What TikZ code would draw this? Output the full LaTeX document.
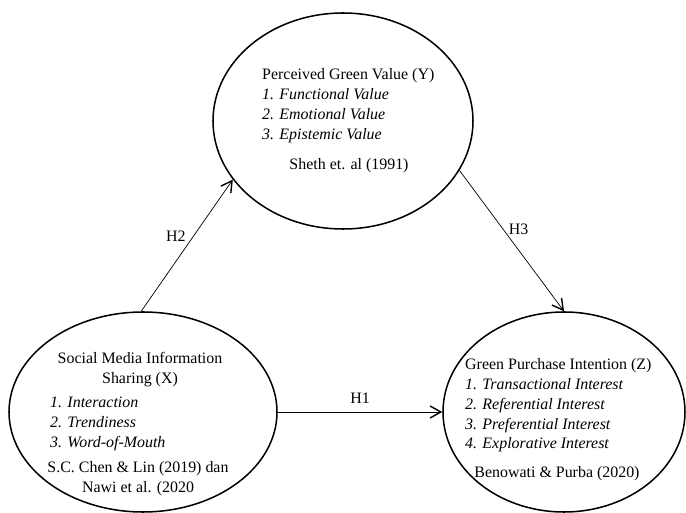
\documentclass[tikz,border=0pt]{standalone}
\usepackage{fontspec}
\setmainfont{Liberation Serif}
\usetikzlibrary{shapes.geometric,arrows.meta}

\begin{document}
\begin{tikzpicture}[x=0.03cm,y=-0.03cm,
        font=\fontsize{13.6}{17}\selectfont,
        latent/.style={draw,ellipse,line width=1.3pt,inner sep=0pt},
        effect/.style={line width=0.6pt,-{Straight Barb[length=3.2mm,width=3.6mm,line width=1.2pt]}},
        txt/.style={inner sep=0pt}]
        \useasboundingbox (0,0) rectangle (686,513); % fixes the page size

        % the three constructs
        \node[latent,minimum width=260*0.03cm,minimum height=216*0.03cm] (Y) at (343,121) {};
        \node[latent,minimum width=268*0.03cm,minimum height=200*0.03cm] (X) at (143,412) {};
        \node[latent,minimum width=242*0.03cm,minimum height=200*0.03cm] (Z) at (564,412) {};

        % Y
        \node[txt,anchor=north west,align=left] (Ylist) at (262,68)
            {Perceived Green Value (Y)\\ \textit{1. Functional Value}\\ \textit{2. Emotional Value}\\ \textit{3. Epistemic Value}};
        \node[txt,anchor=base] (Ycite) at (349,170) {Sheth et. al (1991)};

        % X
        \node[txt,anchor=north,align=center] (Xtitle) at (140,352) {Social Media Information\\ Sharing (X)};
        \node[txt,anchor=north west,align=left] (Xlist) at (50,397)
            {\textit{1. Interaction}\\ \textit{2. Trendiness}\\ \textit{3. Word-of-Mouth}};
        \node[txt,anchor=north,align=center] (Xcite) at (138,461) {S.C. Chen \& Lin (2019) dan\\ Nawi et al. (2020};

        % Z
        \node[txt,anchor=north west,align=left] (Zlist) at (465,358)
            {Green Purchase Intention (Z)\\ \textit{1. Transactional Interest}\\ \textit{2. Referential Interest}\\ \textit{3. Preferential Interest}\\ \textit{4. Explorative Interest}};
        \node[txt,anchor=base] (Zcite) at (557,478) {Benowati \& Purba (2020)};

        % hypotheses
        \draw[effect] (X.91) -- (Y.208) node[pos=0.57,left=3pt] (H2) {H2};
        \draw[effect] (Y.-23) -- (Z.90) node[pos=0.42,right=1pt] (H3) {H3};
        \draw[effect] (X.east) -- (Z.west) node[midway,above=4pt] (H1) {H1};
    \end{tikzpicture}
\end{document}
